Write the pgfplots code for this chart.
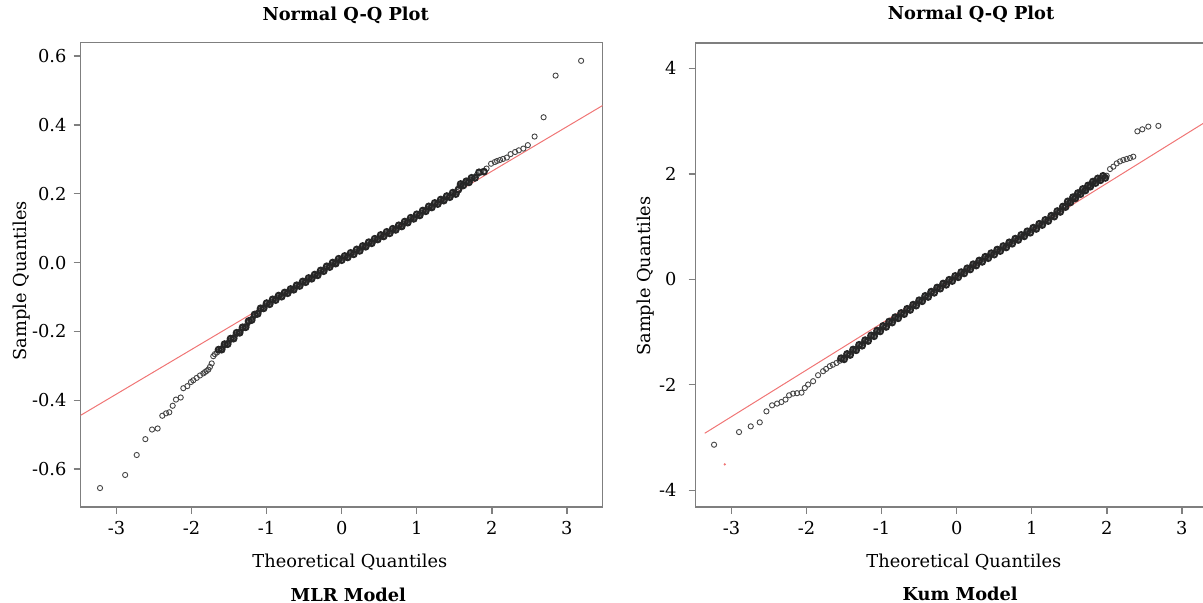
\documentclass[border=0pt]{standalone}
\usepackage{pgfplots}
\pgfplotsset{compat=1.18}
\usepackage{pgfplotstable}
\usepackage{fontspec}
\setmainfont{DejaVu Serif}
\definecolor{framegray}{HTML}{7F7F7F}
\definecolor{ptgray}{HTML}{454545}
\definecolor{qqred}{HTML}{F07575}
\newcommand{\tf}{\fontsize{8.9}{10.5}\selectfont}

\pgfplotstableread{
x y
-3.22 -0.655
-2.885 -0.617
-2.731 -0.559
-2.616 -0.513
-2.527 -0.485
-2.452 -0.482
-2.39 -0.445
-2.34 -0.438
-2.297 -0.435
-2.252 -0.416
-2.208 -0.398
-2.145 -0.392
-2.11 -0.365
-2.057 -0.359
-2.008 -0.347
-1.977 -0.342
-1.932 -0.335
-1.888 -0.328
-1.844 -0.322
-1.82 -0.318
-1.80 -0.315
-1.777 -0.311
-1.755 -0.303
-1.732 -0.293
-1.711 -0.272
-1.69 -0.266
-1.66 -0.261
-1.62 -0.253
-1.58 -0.245
-1.54 -0.237
-1.50 -0.229
-1.46 -0.221
-1.42 -0.212
-1.38 -0.204
-1.34 -0.196
-1.30 -0.188
-1.26 -0.180
-1.22 -0.167
-1.18 -0.159
-1.14 -0.150
-1.10 -0.141
-1.06 -0.133
-1.02 -0.125
-0.98 -0.120
-0.94 -0.114
-0.90 -0.108
-0.86 -0.102
-0.82 -0.097
-0.78 -0.093
-0.74 -0.088
-0.70 -0.083
-0.66 -0.078
-0.62 -0.073
-0.58 -0.067
-0.54 -0.061
-0.50 -0.056
-0.46 -0.051
-0.42 -0.046
-0.38 -0.041
-0.34 -0.036
-0.30 -0.030
-0.26 -0.024
-0.22 -0.018
-0.18 -0.012
-0.14 -0.007
-0.10 -0.002
-0.06 0.004
-0.02 0.009
0.02 0.013
0.06 0.017
0.10 0.021
0.14 0.026
0.18 0.031
0.22 0.036
0.26 0.041
0.30 0.047
0.34 0.052
0.38 0.057
0.42 0.062
0.46 0.068
0.50 0.073
0.54 0.078
0.58 0.082
0.62 0.087
0.66 0.091
0.70 0.096
0.74 0.101
0.78 0.106
0.82 0.112
0.86 0.118
0.90 0.123
0.94 0.128
0.98 0.133
1.02 0.138
1.06 0.144
1.10 0.150
1.14 0.156
1.18 0.161
1.22 0.166
1.26 0.171
1.30 0.176
1.34 0.181
1.38 0.186
1.42 0.191
1.46 0.196
1.50 0.201
1.54 0.205
1.57 0.222
1.60 0.226
1.64 0.230
1.68 0.235
1.71 0.239
1.75 0.246
1.80 0.254
1.86 0.263
1.93 0.273
1.99 0.287
2.04 0.292
2.07 0.295
2.11 0.298
2.15 0.301
2.20 0.305
2.25 0.315
2.31 0.321
2.36 0.326
2.42 0.331
2.48 0.341
2.57 0.366
2.69 0.422
2.85 0.543
3.19 0.586
}\mlrdata

\pgfplotstableread{
x y
-1.64 -0.253
-1.60 -0.253
-1.56 -0.237
-1.52 -0.237
-1.48 -0.221
-1.44 -0.221
-1.40 -0.204
-1.36 -0.204
-1.32 -0.188
-1.28 -0.188
-1.24 -0.170
-1.20 -0.167
-1.16 -0.151
-1.12 -0.149
-1.08 -0.133
-1.04 -0.133
-1.00 -0.118
-0.96 -0.121
-0.92 -0.107
-0.88 -0.109
-0.84 -0.096
-0.80 -0.099
-0.76 -0.087
-0.72 -0.089
-0.68 -0.077
-0.64 -0.079
-0.60 -0.066
-0.56 -0.068
-0.52 -0.055
-0.48 -0.057
-0.44 -0.045
-0.40 -0.047
-0.36 -0.035
-0.32 -0.037
-0.28 -0.023
-0.24 -0.025
-0.20 -0.011
-0.16 -0.013
-0.12 0.000
-0.08 -0.003
-0.04 0.011
0.00 0.007
0.04 0.019
0.08 0.015
0.12 0.028
0.16 0.024
0.20 0.038
0.24 0.034
0.28 0.048
0.32 0.046
0.36 0.059
0.40 0.056
0.44 0.069
0.48 0.067
0.52 0.080
0.56 0.076
0.60 0.089
0.64 0.085
0.68 0.098
0.72 0.095
0.76 0.108
0.80 0.105
0.84 0.119
0.88 0.116
0.92 0.130
0.96 0.127
1.00 0.140
1.04 0.137
1.08 0.151
1.12 0.149
1.16 0.163
1.20 0.160
1.24 0.173
1.28 0.170
1.32 0.183
1.36 0.180
1.40 0.193
1.44 0.190
1.48 0.203
1.52 0.199
1.555 0.212
1.585 0.228
1.62 0.224
1.66 0.236
1.695 0.233
1.73 0.246
1.775 0.246
1.83 0.262
1.895 0.264
}\mlrmid

\pgfplotstableread{
x y
-3.233 -3.137
-2.90 -2.897
-2.744 -2.789
-2.624 -2.713
-2.535 -2.504
-2.46 -2.39
-2.393 -2.357
-2.335 -2.327
-2.281 -2.281
-2.233 -2.20
-2.18 -2.167
-2.127 -2.16
-2.068 -2.15
-2.024 -2.061
-1.98 -1.996
-1.913 -1.933
-1.847 -1.819
-1.78 -1.743
-1.74 -1.70
-1.691 -1.648
-1.65 -1.62
-1.601 -1.586
-1.56 -1.546
-1.52 -1.507
-1.48 -1.467
-1.44 -1.425
-1.40 -1.384
-1.36 -1.339
-1.32 -1.293
-1.28 -1.250
-1.24 -1.207
-1.20 -1.162
-1.16 -1.117
-1.12 -1.071
-1.08 -1.026
-1.04 -0.980
-1.00 -0.935
-0.96 -0.894
-0.92 -0.852
-0.88 -0.811
-0.84 -0.769
-0.80 -0.728
-0.76 -0.689
-0.72 -0.649
-0.68 -0.610
-0.64 -0.570
-0.60 -0.531
-0.56 -0.490
-0.52 -0.448
-0.48 -0.407
-0.44 -0.365
-0.40 -0.324
-0.36 -0.285
-0.32 -0.245
-0.28 -0.206
-0.24 -0.166
-0.20 -0.127
-0.16 -0.092
-0.12 -0.056
-0.08 -0.021
-0.04 0.015
0.00 0.050
0.04 0.087
0.08 0.123
0.12 0.160
0.16 0.196
0.20 0.237
0.24 0.273
0.28 0.308
0.32 0.343
0.36 0.379
0.40 0.414
0.44 0.448
0.48 0.482
0.52 0.516
0.56 0.550
0.60 0.581
0.64 0.616
0.68 0.652
0.72 0.687
0.76 0.722
0.80 0.758
0.84 0.793
0.88 0.828
0.92 0.862
0.96 0.896
1.00 0.930
1.04 0.966
1.08 1.003
1.12 1.040
1.16 1.077
1.20 1.114
1.24 1.155
1.28 1.197
1.32 1.240
1.36 1.285
1.40 1.330
1.43 1.370
1.465 1.426
1.50 1.468
1.532 1.508
1.565 1.545
1.599 1.584
1.63 1.625
1.665 1.665
1.70 1.698
1.732 1.730
1.765 1.768
1.799 1.806
1.83 1.840
1.865 1.869
1.90 1.895
1.932 1.920
1.965 1.942
1.999 1.964
2.043 2.091
2.087 2.135
2.132 2.198
2.176 2.236
2.22 2.262
2.265 2.281
2.309 2.300
2.353 2.325
2.407 2.806
2.473 2.844
2.553 2.895
2.687 2.909
}\kumdata

\pgfplotstableread{
x y
-1.54 -1.497
-1.50 -1.517
-1.46 -1.416
-1.42 -1.435
-1.38 -1.332
-1.34 -1.346
-1.30 -1.242
-1.26 -1.259
-1.22 -1.155
-1.18 -1.170
-1.14 -1.064
-1.10 -1.079
-1.06 -0.973
-1.02 -0.988
-0.98 -0.885
-0.94 -0.903
-0.90 -0.802
-0.86 -0.820
-0.82 -0.719
-0.78 -0.739
-0.74 -0.639
-0.70 -0.660
-0.66 -0.560
-0.62 -0.581
-0.58 -0.481
-0.54 -0.499
-0.50 -0.398
-0.46 -0.416
-0.42 -0.315
-0.38 -0.335
-0.34 -0.235
-0.30 -0.256
-0.26 -0.156
-0.22 -0.177
-0.18 -0.080
-0.14 -0.104
-0.10 -0.009
-0.06 -0.033
-0.02 0.063
0.02 0.039
0.06 0.135
0.10 0.112
0.14 0.208
0.18 0.187
0.22 0.285
0.26 0.261
0.30 0.356
0.34 0.331
0.38 0.427
0.42 0.401
0.46 0.495
0.50 0.469
0.54 0.563
0.58 0.536
0.62 0.629
0.66 0.604
0.70 0.700
0.74 0.675
0.78 0.770
0.82 0.746
0.86 0.841
0.90 0.815
0.94 0.909
0.98 0.883
1.02 0.978
1.06 0.955
1.10 1.052
1.14 1.029
1.18 1.126
1.22 1.105
1.26 1.206
1.30 1.189
1.34 1.293
1.38 1.278
1.415 1.380
1.45 1.370
1.48 1.477
1.515 1.458
1.55 1.557
1.58 1.535
1.615 1.635
1.65 1.615
1.68 1.712
1.715 1.684
1.75 1.779
1.78 1.757
1.815 1.853
1.85 1.825
1.88 1.912
1.915 1.878
1.95 1.961
1.98 1.923
}\kummid

\pgfplotsset{qq/.style={
  scale only axis, width=261pt,
  axis line style={framegray, line width=0.8pt},
  every tick/.style={framegray, line width=0.7pt},
  tick align=outside, major tick length=3.5pt,
  xtick pos=bottom, ytick pos=left,
  xtick={-3,-2,-1,0,1,2,3},
  xticklabels={-3,-2,-1,0,1,2,3},
  tick label style={font=\tf},
  label style={font=\tf},
  title style={font=\tf\bfseries, anchor=base},
  ylabel style={anchor=center},
  xlabel style={anchor=base},
  xlabel={Theoretical Quantiles},
  ylabel={Sample Quantiles},
  title={Normal Q-Q Plot},
}, pts/.style={only marks, mark=o, mark size=1.3pt, mark options={ptgray, line width=0.45pt}},
dense/.style={only marks, mark=o, mark size=1.45pt, mark options={black!85, line width=1.0pt}}}

\begin{document}
\begin{tikzpicture}
\begin{axis}[qq,
  at={(40.25pt,-21.35pt)}, anchor=north west, height=232.15pt,
  xmin=-3.48, xmax=3.475, ymin=-0.710, ymax=0.6386,
  ytick={-0.6,-0.4,-0.2,0,0.2,0.4,0.6},
  yticklabels={-0.6,-0.4,-0.2,0.0,0.2,0.4,0.6},
  title style={at={(rel axis cs:0.508,1.023)}},
  xlabel style={at={(rel axis cs:0.516,-0.1314)}},
  ylabel style={at={(rel axis cs:-0.112,0.487)}},
  extra description/.code={\node[anchor=base, font=\tf\bfseries] at (rel axis cs:0.513,-0.2025) {MLR Model};},
]
\addplot[pts] table {\mlrdata};
\addplot[dense] table {\mlrmid};
\addplot[qqred, line width=0.5pt] coordinates {(-3.48,-0.444) (3.475,0.456)};
\end{axis}

\begin{axis}[qq,
  at={(347.75pt,-21.65pt)}, anchor=north west, height=231.85pt,
  xmin=-3.48, xmax=3.475, ymin=-4.318, ymax=4.475,
  ytick={-4,-2,0,2,4},
  yticklabels={-4,-2,0,2,4},
  yticklabel style={xshift=-2.5pt},
  title style={at={(rel axis cs:0.528,1.0244)}},
  xlabel style={at={(rel axis cs:0.514,-0.1315)}},
  ylabel style={at={(rel axis cs:-0.0948,0.498)}},
  extra description/.code={\node[anchor=base, font=\tf\bfseries] at (rel axis cs:0.507,-0.2027) {Kum Model};},
]
\addplot[pts] table {\kumdata};
\addplot[dense] table {\kummid};
\addplot[qqred, line width=0.5pt] coordinates {(-3.357,-2.92) (3.475,3.125)};
\addplot[only marks, mark=*, mark size=0.35pt, qqred] coordinates {(-3.09,-3.51)};
\end{axis}
\pgfresetboundingbox
\useasboundingbox (0pt,0pt) rectangle (601.5pt,-301.5pt);
\end{tikzpicture}
\end{document}
